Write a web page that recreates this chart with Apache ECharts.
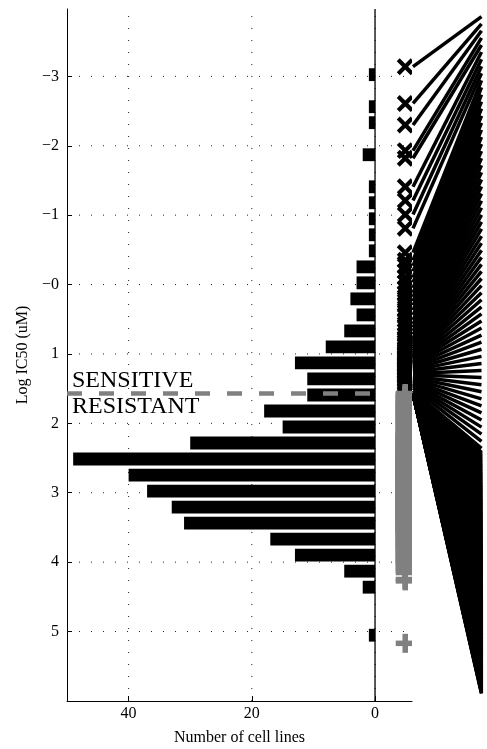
<!DOCTYPE html>
<html><head><meta charset="utf-8">
<script src="https://cdn.jsdelivr.net/npm/echarts@6/dist/echarts.min.js"></script>
<style>html,body{margin:0;padding:0;background:#fff}#c{width:487px;height:749px}</style>
</head><body><div id="c"></div>
<script>
// ---------- data ----------
// histogram bin centres (log IC50, uM) and number of cell lines per bin
const binCenters = [-3.025,-2.794,-2.563,-2.333,-2.102,-1.871,-1.640,-1.409,-1.179,-0.948,
  -0.717,-0.486,-0.255,-0.025,0.206,0.437,0.668,0.899,1.129,1.360,
  1.591,1.822,2.053,2.283,2.514,2.745,2.976,3.207,3.437,3.668,
  3.899,4.130,4.361,4.592,4.822,5.053];
const binCounts = [1,0,1,1,0,2,0,1,1,1,1,1,3,3,4,3,5,8,13,11,11,18,15,30,49,40,37,33,31,17,13,5,2,0,0,1];

// sensitive / resistant threshold (log IC50)
const threshold = 1.57;

// individual cell lines (log IC50), sensitive ones (x markers)
const sensitiveLogIC50 = [-3.14,-2.61,-2.30,-1.93,-1.82,-1.41,-1.21,-1.01,-0.81,-0.46,
  -0.35,-0.27,-0.19,-0.10,-0.03,0.05,0.12,0.18,0.24,0.30,
  0.37,0.44,0.51,0.57,0.62,0.67,0.72,0.77,
  0.80,0.83,0.86,0.89,0.92,0.95,0.98,1.00,
  1.02,1.04,1.06,1.07,1.09,1.11,1.13,1.14,1.16,1.18,1.20,1.22,1.24,
  1.26,1.28,1.30,1.32,1.34,1.36,1.38,1.40,1.42,1.44,1.46,
  1.49,1.53];
// resistant ones (+ markers)
const resistantLogIC50 = [1.57,1.58,1.60,1.61,1.63,1.65,1.66,1.68,1.70,
  1.71,1.72,1.73,1.75,1.76,1.77,1.78,1.80,1.81,1.82,1.84,1.85,1.86,1.87,1.89,1.90,1.91,1.93,
  1.94,1.96,1.97,1.99,2.00,2.02,2.03,2.05,2.06,2.08,2.10,2.11,2.13,2.14,2.16,
  2.17,2.18,2.18,2.19,2.20,2.21,2.21,2.22,2.23,2.24,2.24,2.25,2.26,2.27,2.27,2.28,2.29,2.30,2.30,2.31,2.32,2.33,2.33,2.34,2.35,2.36,2.36,2.37,2.38,2.39,
  2.40,2.40,2.41,2.41,2.42,2.42,2.43,2.43,2.44,2.44,2.45,2.45,2.46,2.46,2.47,2.47,2.48,2.48,2.49,2.49,2.50,2.50,2.51,2.51,2.51,2.52,2.52,2.53,2.53,2.54,2.54,2.55,2.55,2.56,2.56,2.57,2.57,2.58,2.58,2.59,2.59,2.60,2.60,2.61,2.61,2.62,2.62,2.63,2.63,
  2.64,2.64,2.65,2.65,2.66,2.66,2.67,2.67,2.68,2.68,2.69,2.70,2.70,2.71,2.71,2.72,2.73,2.73,2.74,2.74,2.75,2.75,2.76,2.77,2.77,2.78,2.78,2.79,2.79,2.80,2.81,2.81,2.82,2.82,2.83,2.83,2.84,2.85,2.85,2.86,
  2.87,2.87,2.88,2.88,2.89,2.90,2.90,2.91,2.92,2.92,2.93,2.94,2.94,2.95,2.96,2.96,2.97,2.98,2.98,2.99,3.00,3.00,3.01,3.02,3.02,3.03,3.04,3.04,3.05,3.06,3.06,3.07,3.07,3.08,3.08,3.09,3.09,
  3.10,3.10,3.11,3.12,3.12,3.13,3.14,3.15,3.15,3.16,3.17,3.18,3.18,3.19,3.20,3.21,3.21,3.22,3.23,3.24,3.24,3.25,3.26,3.27,3.27,3.28,3.29,3.30,3.30,3.31,3.31,3.32,3.32,
  3.33,3.34,3.34,3.35,3.36,3.37,3.37,3.38,3.39,3.40,3.40,3.41,3.42,3.43,3.43,3.44,3.45,3.46,3.46,3.47,3.48,3.49,3.49,3.50,3.51,3.52,3.52,3.53,3.54,3.55,3.55,
  3.56,3.57,3.59,3.60,3.62,3.63,3.64,3.66,3.67,3.69,3.70,3.72,3.73,3.74,3.76,3.77,3.78,
  3.79,3.81,3.83,3.84,3.86,3.88,3.90,3.92,3.94,3.96,3.97,3.99,4.01,
  4.03,4.06,4.09,4.12,4.15,
  4.25,4.27,
  5.17];

// axis ticks and labels
const yTickValues = [-3,-2,-1,0,1,2,3,4,5];
const yTickLabels = ['\u22123','\u22122','\u22121','\u22120','1','2','3','4','5'];
const xTickValues = [0,20,40];
const xTickLabels = ['0','20','40'];
const labelSensitive = 'SENSITIVE';
const labelResistant = 'RESISTANT';
const xTitle = 'Number of cell lines';
const yTitle = 'Log IC50 (uM)';

// ---------- layout / style constants ----------
const FONT = '"Liberation Serif","Times New Roman",serif';
const allValues = sensitiveLogIC50.concat(resistantLogIC50);
const dMin = Math.min.apply(null, allValues), dMax = Math.max.apply(null, allValues);
const pad = 0.1 * (dMax - dMin);
const yMin = dMin - pad, yMax = dMax + pad;
const xMin = -6, xMax = 50;
const markerX = -4.9;
const binWidth = binCenters[1] - binCenters[0];
const halfBar = 0.4 * binWidth;
const gridTop = 9, gridBottom = 48;

// fan: right-hand end positions (fraction of height), ranked within each group
const fanTopF = 0.006, fanSplitF = 0.64, fanBotF = 0.99;
const S = sensitiveLogIC50.length, R = resistantLogIC50.length;
const fanData = [];
sensitiveLogIC50.forEach((v, i) => {
  const f = fanTopF + (i + 0.5) / S * (fanSplitF - fanTopF);
  fanData.push([v, yMin + f * (yMax - yMin)]);
});
resistantLogIC50.forEach((v, j) => {
  const f = fanSplitF + (j + 0.5) / R * (fanBotF - fanSplitF);
  fanData.push([threshold, yMin + f * (yMax - yMin)]);
});

const chart = echarts.init(document.getElementById('c'), null, {renderer: 'canvas'});

function lineEl(p1, p2, style) {
  return {type: 'line', shape: {x1: p1[0], y1: p1[1], x2: p2[0], y2: p2[1]}, style: style};
}

const option = {
  backgroundColor: '#fff',
  animation: false,
  textStyle: {fontFamily: FONT},
  grid: [
    {left: 67, right: 75, top: gridTop, bottom: gridBottom, outerBoundsMode: 'none', containLabel: false},
    {left: 413, right: 5.5, top: gridTop, bottom: gridBottom, outerBoundsMode: 'none', containLabel: false}
  ],
  xAxis: [
    {type: 'value', gridIndex: 0, inverse: true, min: xMin, max: xMax,
     name: xTitle, nameLocation: 'middle', nameGap: 29,
     nameTextStyle: {fontFamily: FONT, fontSize: 16, color: '#000'},
     axisLine: {show: true, onZero: false, lineStyle: {color: '#000', width: 1}},
     axisTick: {show: true, inside: true, length: 5, customValues: xTickValues, lineStyle: {color: '#000'}},
     axisLabel: {show: true, customValues: xTickValues, margin: 5, fontFamily: FONT, fontSize: 16, color: '#000',
       formatter: v => xTickLabels[xTickValues.indexOf(v)] || ''},
     splitLine: {show: false}},
    {type: 'value', gridIndex: 1, min: 0, max: 1, show: false}
  ],
  yAxis: [
    {type: 'value', gridIndex: 0, inverse: true, min: yMin, max: yMax,
     name: yTitle, nameLocation: 'middle', nameGap: 36,
     nameTextStyle: {fontFamily: FONT, fontSize: 16, color: '#000'},
     axisLine: {show: true, onZero: false, lineStyle: {color: '#000', width: 1}},
     axisTick: {show: true, inside: true, length: 5, customValues: yTickValues, lineStyle: {color: '#000'}},
     axisLabel: {show: true, customValues: yTickValues, margin: 8, fontFamily: FONT, fontSize: 16, color: '#000',
       formatter: v => { const k = yTickValues.findIndex(t => Math.abs(t - v) < 1e-9); return k >= 0 ? yTickLabels[k] : ''; }},
     splitLine: {show: false}},
    {type: 'value', gridIndex: 1, inverse: true, min: yMin, max: yMax, show: false}
  ],
  series: [
    // dotted grid lines
    {type: 'custom', xAxisIndex: 0, yAxisIndex: 0, z: 1, silent: true,
     data: yTickValues.map(v => [0, v, 0]).concat(xTickValues.map(v => [v, 0, 1])),
     encode: {x: 0, y: 1},
     renderItem: (params, api) => {
       const kind = api.value(2);
       const dot = {stroke: '#222', lineWidth: 1, lineDash: [1, 11], fill: null};
       if (kind === 0) {
         const v = api.value(1);
         return lineEl(api.coord([xMax, v]), api.coord([xMin, v]), dot);
       }
       const x = api.value(0);
       return lineEl(api.coord([x, yMax]), api.coord([x, yMin]), dot);
     }},
    // histogram bars
    {type: 'custom', xAxisIndex: 0, yAxisIndex: 0, z: 2,
     data: binCenters.map((c, i) => [binCounts[i], c]).filter(d => d[0] > 0),
     encode: {x: 0, y: 1},
     renderItem: (params, api) => {
       const n = api.value(0), c = api.value(1);
       const a = api.coord([n, c - halfBar]), b = api.coord([0, c + halfBar]);
       return {type: 'rect', shape: {x: Math.min(a[0], b[0]), y: Math.min(a[1], b[1]),
         width: Math.abs(b[0] - a[0]), height: Math.abs(b[1] - a[1])}, style: {fill: '#000'}};
     }},
    // zero line
    {type: 'custom', xAxisIndex: 0, yAxisIndex: 0, z: 3, silent: true,
     data: [[0, 0]], encode: {x: 0, y: 1},
     renderItem: (params, api) => lineEl(api.coord([0, yMin]), api.coord([0, yMax]), {stroke: '#000', lineWidth: 1.3})},
    // threshold dashed line + labels
    {type: 'custom', xAxisIndex: 0, yAxisIndex: 0, z: 4, silent: true,
     data: [[xMax, threshold]], encode: {x: 0, y: 1},
     renderItem: (params, api) => {
       const a = api.coord([xMax, threshold]), b = api.coord([0, threshold]);
       return {type: 'group', children: [
         lineEl(a, b, {stroke: '#808080', lineWidth: 4.7, lineDash: [15, 17], fill: null}),
         {type: 'text', x: a[0] + 5, y: a[1] - 1, style: {text: labelSensitive, font: '24px ' + FONT, fill: '#000', textAlign: 'left', textVerticalAlign: 'bottom'}},
         {type: 'text', x: a[0] + 5, y: a[1] + 1, style: {text: labelResistant, font: '24px ' + FONT, fill: '#000', textAlign: 'left', textVerticalAlign: 'top'}}
       ]};
     }},
    // fan of lines
    {type: 'custom', xAxisIndex: 1, yAxisIndex: 1, z: 2, silent: true,
     data: fanData, encode: {y: [0, 1]},
     renderItem: (params, api) => lineEl(api.coord([0, api.value(0)]), api.coord([1, api.value(1)]),
       {stroke: '#000', lineWidth: 3.5, fill: null})},
    // sensitive markers (x)
    {type: 'custom', xAxisIndex: 0, yAxisIndex: 0, z: 5, clip: true, silent: true,
     data: sensitiveLogIC50.map(v => [markerX, v]), encode: {x: 0, y: 1},
     renderItem: (params, api) => {
       const p = api.coord([api.value(0), api.value(1)]), r = 7;
       const st = {stroke: '#000', lineWidth: 4.2, fill: null};
       return {type: 'group', children: [
         lineEl([p[0] - r, p[1] - r], [p[0] + r, p[1] + r], st),
         lineEl([p[0] - r, p[1] + r], [p[0] + r, p[1] - r], st)]};
     }},
    // resistant markers (+)
    {type: 'custom', xAxisIndex: 0, yAxisIndex: 0, z: 6, clip: true, silent: true,
     data: resistantLogIC50.map(v => [markerX, v]), encode: {x: 0, y: 1},
     renderItem: (params, api) => {
       const p = api.coord([api.value(0), api.value(1)]), r = 9.5;
       const st = {stroke: '#808080', lineWidth: 5.5, fill: null};
       return {type: 'group', children: [
         lineEl([p[0] - r, p[1]], [p[0] + r, p[1]], st),
         lineEl([p[0], p[1] - r], [p[0], p[1] + r], st)]};
     }}
  ]
};
chart.setOption(option);
</script>
</body></html>
